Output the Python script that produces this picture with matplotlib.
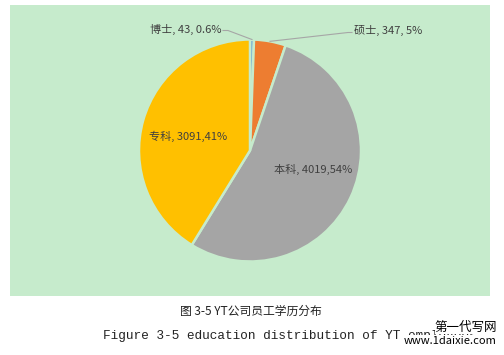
import numpy as np
import matplotlib.pyplot as plt

plt.rcParams['font.family'] = ['Noto Sans CJK SC', 'DejaVu Sans']

categories = ['博士', '硕士', '本科', '专科']
counts = [43, 347, 4019, 3091]
pct_labels = ['0.6%', '5%', '54%', '41%']
colors = ['#5B9BD5', '#ED7D31', '#A5A5A5', '#FFC000']
panel = '#C6EBCC'

W, H = 504, 355
fig = plt.figure(figsize=(W / 100, H / 100), dpi=100)
fig.patch.set_facecolor('white')

# panel axes, limits in pixel units so the pie stays round
x0, y0, x1, y1 = 10, 5, 490, 296
ax = fig.add_axes([x0 / W, 1 - y1 / H, (x1 - x0) / W, (y1 - y0) / H])
ax.set_facecolor(panel)
R = 111
wedges, _ = ax.pie(counts, colors=colors, startangle=90, counterclock=False,
                   radius=R, frame=True,
                   wedgeprops=dict(edgecolor=panel, linewidth=1.8))
hw, hh = (x1 - x0) / 2, (y1 - y0) / 2
ax.set_xlim(-hw, hw)
ax.set_ylim(-hh, hh)
ax.set_aspect('equal')
ax.set_xticks([])
ax.set_yticks([])
for s in ax.spines.values():
    s.set_visible(False)

labels = [f'{c}, {n}, {p}' for c, n, p in zip(categories, counts, pct_labels)]
labels[2] = f'{categories[2]}, {counts[2]},{pct_labels[2]}'
labels[3] = f'{categories[3]}, {counts[3]},{pct_labels[3]}'
tc = '#404040'
fs = 8

def anchor(w, r=R):
    a = np.deg2rad((w.theta1 + w.theta2) / 2)
    return r * np.cos(a), r * np.sin(a)

# 博士 - outside with leader
ax.text(-28, 121, labels[0], ha='right', va='center', fontsize=fs, color=tc)
px, py = anchor(wedges[0])
ax.plot([-27, -22, px], [120, 120, py], color='#A6A6A6', lw=0.8)
# 硕士 - outside with leader
ax.text(104, 120, labels[1], ha='left', va='center', fontsize=fs, color=tc)
px, py = anchor(wedges[1])
ax.plot([102, 98, px], [118, 118, py], color='#A6A6A6', lw=0.8)
# inside labels
ax.text(63, -19, labels[2], ha='center', va='center', fontsize=fs, color=tc)
ax.text(-62, 14, labels[3], ha='center', va='center', fontsize=fs, color=tc)

# captions
fig.text(251 / W, 1 - 311 / H, '图 3-5 YT公司员工学历分布', ha='center', va='center',
         fontsize=8.5, color='#222222')
fig.text(103 / W, 1 - 336 / H, 'Figure 3-5 education distribution of YT employees',
         ha='left', va='center', fontsize=9.2, color='#222222',
         family=['Liberation Mono', 'DejaVu Sans Mono'])

# watermark
fig.text(497 / W, 1 - 327 / H, '第一代写网', ha='right', va='center', fontsize=9,
         color='black', bbox=dict(facecolor='white', edgecolor='none', pad=0))
fig.text(497 / W, 1 - 341 / H, 'www.1daixie.com', ha='right', va='center',
         fontsize=8, color='black',
         bbox=dict(facecolor='white', edgecolor='none', pad=0.5))

fig.savefig('out.png', dpi=100)
